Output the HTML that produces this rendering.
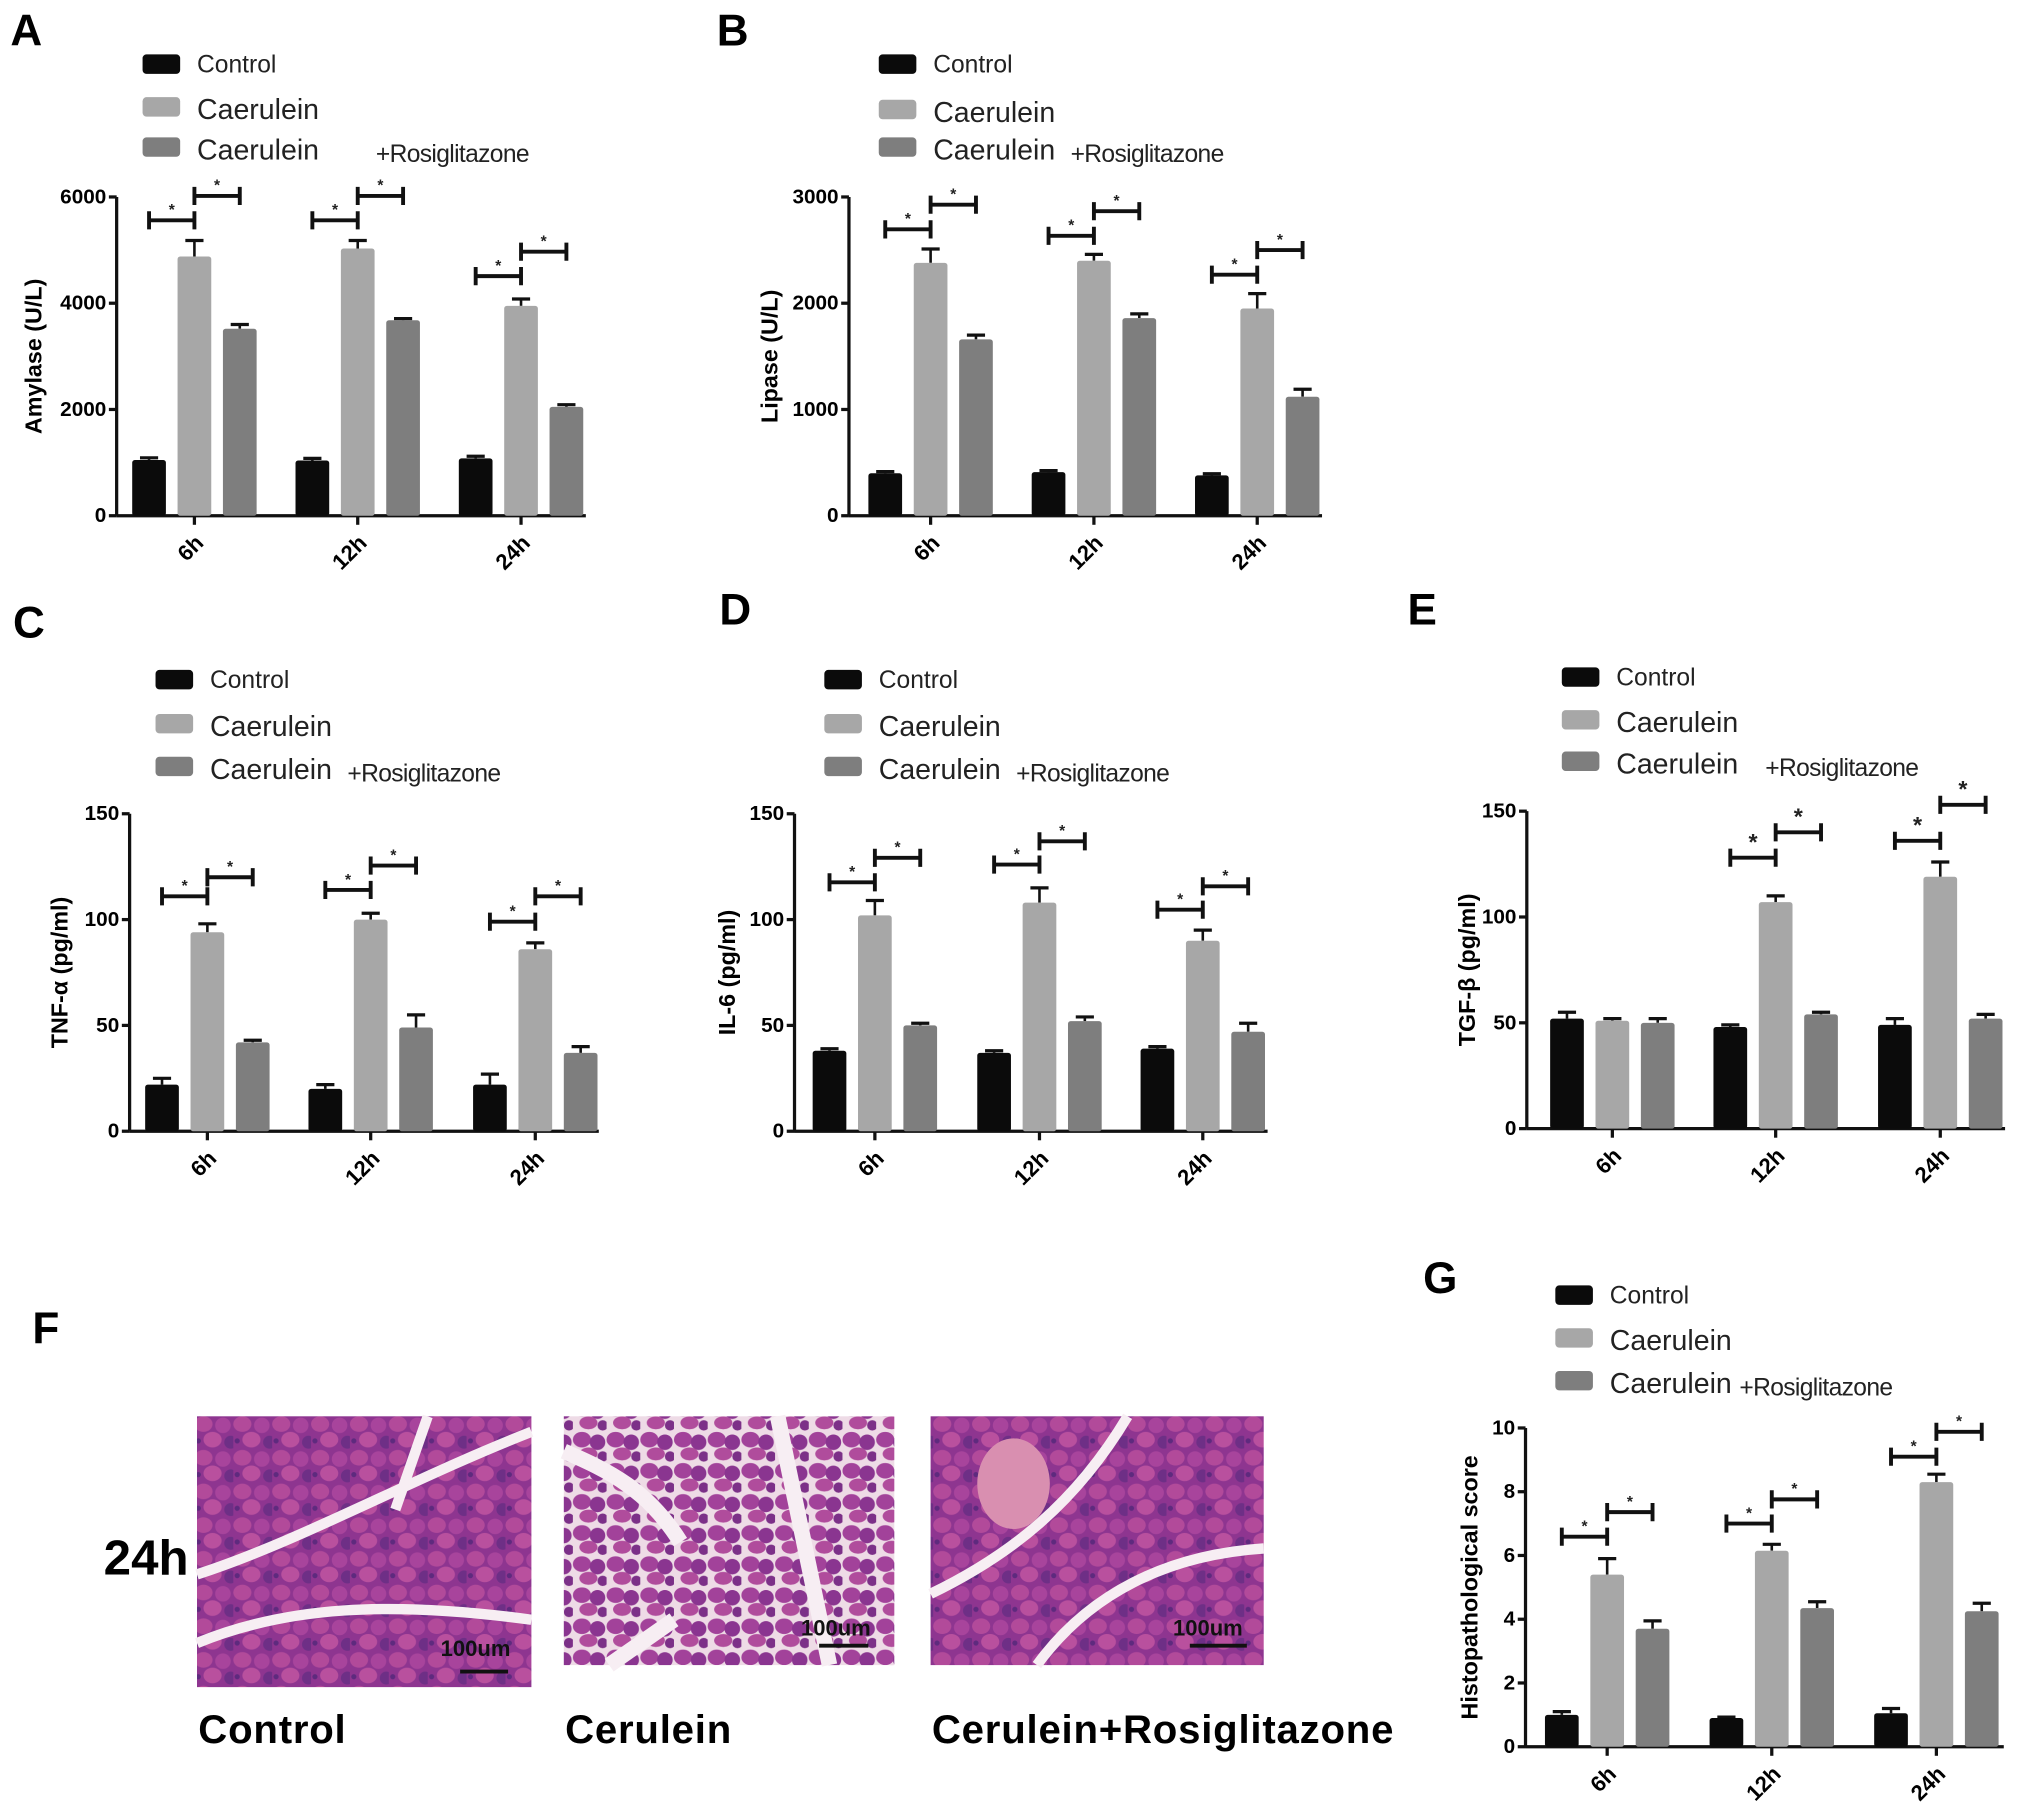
<!DOCTYPE html>
<html><head><meta charset="utf-8">
<style>
html,body{margin:0;padding:0;background:#fff;}
svg{display:block;}
text{font-family:"Liberation Sans",Arial,sans-serif;}
</style></head>
<body>
<svg id="fig" width="2031" height="1818" viewBox="0 0 1567 1403" preserveAspectRatio="none" xmlns="http://www.w3.org/2000/svg">
<defs>
<pattern id="acini" width="30" height="26" patternUnits="userSpaceOnUse">
<rect width="30" height="26" fill="#8e3590"/>
<ellipse cx="7" cy="7" rx="7" ry="6" fill="#b24a9a"/>
<ellipse cx="22" cy="8" rx="6" ry="6" fill="#a8449c"/>
<ellipse cx="14" cy="19" rx="7" ry="6" fill="#b9509e"/>
<ellipse cx="28" cy="21" rx="5" ry="5" fill="#6e2f86"/>
<circle cx="3" cy="20" r="2" fill="#5e2a7e"/>
</pattern>
<pattern id="aciniLoose" width="26" height="24" patternUnits="userSpaceOnUse">
<rect width="26" height="24" fill="#eedbe6"/>
<ellipse cx="7" cy="7" rx="7" ry="6" fill="#a2429a"/>
<ellipse cx="19" cy="9" rx="6" ry="6" fill="#8a3590"/>
<ellipse cx="12" cy="18" rx="7" ry="5" fill="#b04c9c"/>
<ellipse cx="23" cy="20" rx="4" ry="4" fill="#7c3088"/>
</pattern>
</defs>
<g id="root"></g>
</svg>
<script>
// ---------- Panel data ----------
const categories = ['6h', '12h', '24h'];
const seriesNames = ['Control', 'Caerulein', 'Caerulein +Rosiglitazone'];

const amyCtrl = [1050, 1040, 1080];
const amyCaer = [4880, 5030, 3950];
const amyRosi = [3520, 3680, 2050];
const amyCtrlErr = [40, 40, 40];
const amyCaerErr = [300, 150, 130];
const amyRosiErr = [80, 30, 40];
const amyTicks = [0, 2000, 4000, 6000];
const amySigLow = [5560, 5560, 4510];
const amySigHigh = [6020, 6020, 4970];

const lipCtrl = [400, 410, 380];
const lipCaer = [2380, 2400, 1950];
const lipRosi = [1660, 1860, 1120];
const lipCtrlErr = [15, 15, 15];
const lipCaerErr = [130, 60, 140];
const lipRosiErr = [40, 40, 70];
const lipTicks = [0, 1000, 2000, 3000];
const lipSigLow = [2695, 2634, 2268];
const lipSigHigh = [2927, 2866, 2500];

const tnfCtrl = [22, 20, 22];
const tnfCaer = [94, 100, 86];
const tnfRosi = [42, 49, 37];
const tnfCtrlErr = [3, 2, 5];
const tnfCaerErr = [4, 3, 3];
const tnfRosiErr = [1, 6, 3];
const tnfTicks = [0, 50, 100, 150];
const tnfSigLow = [111, 114, 99];
const tnfSigHigh = [120, 125.5, 111];

const il6Ctrl = [38, 37, 39];
const il6Caer = [102, 108, 90];
const il6Rosi = [50, 52, 47];
const il6CtrlErr = [1, 1, 1];
const il6CaerErr = [7, 7, 5];
const il6RosiErr = [1, 2, 4];
const il6Ticks = [0, 50, 100, 150];
const il6SigLow = [117.6, 126, 104.7];
const il6SigHigh = [129.2, 137, 115.7];

const tgfCtrl = [52, 48, 49];
const tgfCaer = [51, 107, 119];
const tgfRosi = [50, 54, 52];
const tgfCtrlErr = [3, 1, 3];
const tgfCaerErr = [1, 3, 7];
const tgfRosiErr = [2, 1, 2];
const tgfTicks = [0, 50, 100, 150];
const tgfSigLow = [null, 128, 136];
const tgfSigHigh = [null, 140, 153];

const histCtrl = [1.0, 0.9, 1.05];
const histCaer = [5.4, 6.15, 8.3];
const histRosi = [3.7, 4.35, 4.25];
const histCtrlErr = [0.1, 0.03, 0.15];
const histCaerErr = [0.5, 0.2, 0.25];
const histRosiErr = [0.25, 0.2, 0.25];
const histTicks = [0, 2, 4, 6, 8, 10];
const histSigLow = [6.59, 7.0, 9.1];
const histSigHigh = [7.36, 7.76, 9.88];

const colors = ['#0b0b0b', '#a7a7a7', '#7e7e7e'];
const NS = 'http://www.w3.org/2000/svg';
const root = document.getElementById('root');

function mk(tag, attrs, parent, txt) {
  const e = document.createElementNS(NS, tag);
  for (const k in attrs) e.setAttribute(k, attrs[k]);
  if (txt !== undefined) e.textContent = txt;
  (parent || root).appendChild(e);
  return e;
}

function drawPanel(p) {
  const g = mk('g', {});
  
  
  const L = mk('text', {x: p.letter[0], y: p.letter[1], 'font-size': 34, 'font-weight': 'bold'}, g, p.id.toUpperCase());
  
  
  const lg = mk('g', {}, g);
  
  
  for (let i = 0; i < 3; i++) {
    const sy = p.legY[i];
    const sw = mk('rect', {x: p.legX, y: sy, width: 29, height: 15, rx: 3, fill: colors[i]}, lg);
    
    
    const t = mk('text', {x: p.legX + 42, y: sy + 14 + (i ? 3 : 0), 'font-size': i ? 22 : 19, fill: '#222'}, lg, i ? 'Caerulein' : 'Control');
    
    
    if (i === 2) {
      const r = mk('text', {x: p.legX + p.rosiDx, y: sy + 19, 'font-size': 19, fill: '#222', 'letter-spacing': -0.5}, lg, '+Rosiglitazone');
      
      
    }
  }
  const ax = p.axX, y0 = p.y0, y1 = p.y1, maxV = p.ticks[p.ticks.length - 1];
  const yS = v => y0 - (v / maxV) * (y0 - y1);
  const bw = 26, pitch = 35;
  const xC = (gi, si) => p.centers[gi] + (si - 1) * pitch;
  const ya = mk('line', {x1: ax, y1: y1, x2: ax, y2: y0, stroke: '#111', 'stroke-width': 2.5}, g);
  
  
  const xa = mk('line', {x1: ax, y1: y0, x2: p.axEnd, y2: y0, stroke: '#111', 'stroke-width': 2.5}, g);
  
  
  p.ticks.forEach(v => {
    const y = yS(v);
    const tk = mk('line', {x1: ax - 6, y1: y, x2: ax, y2: y, stroke: '#111', 'stroke-width': 2.5}, g);
    
    
    const tl = mk('text', {x: ax - 8, y: y + 5, 'font-size': 16, 'font-weight': 'bold', 'text-anchor': 'end'}, g, String(v));
    
    
  });
  const yt = mk('text', {x: 0, y: 0, 'font-size': 18, 'font-weight': 'bold', 'text-anchor': 'middle', transform: `translate(${p.titleX},${(y0 + y1) / 2}) rotate(-90)`}, g, p.title);
  
  
  categories.forEach((c, gi) => {
    const cx = p.centers[gi];
    const tk = mk('line', {x1: cx, y1: y0, x2: cx, y2: y0 + 7, stroke: '#111', 'stroke-width': 2.5}, g);
    
    
    const tl = mk('text', {x: 0, y: 0, 'font-size': 17, 'font-weight': 'bold', 'text-anchor': 'end', transform: `translate(${cx + 8},${y0 + 22}) rotate(-45)`}, g, c);
    
    
  });
  const series = [p.ctrl, p.caer, p.rosi];
  const errs = [p.ctrlErr, p.caerErr, p.rosiErr];
  for (let gi = 0; gi < categories.length; gi++) {
    for (let si = 0; si < 3; si++) {
      const v = series[si][gi], e = errs[si][gi], cx = xC(gi, si);
      const top = yS(v + e);
      const el = mk('line', {x1: cx, y1: top, x2: cx, y2: yS(v), stroke: '#111', 'stroke-width': 2}, g);
      
      
      const cap = mk('line', {x1: cx - 7, y1: top, x2: cx + 7, y2: top, stroke: '#111', 'stroke-width': 2.5}, g);
      
      
      const b = mk('rect', {x: cx - bw / 2, y: yS(v), width: bw, height: y0 - yS(v), fill: colors[si], rx: 2}, g);
      
      
    }
    const sig = [[p.sigLow[gi], 0, 1], [p.sigHigh[gi], 1, 2]];
    sig.forEach(([v, a, b2]) => {
      if (v === null) return;
      const y = yS(v), xa1 = xC(gi, a), xb = xC(gi, b2);
      const br = mk('path', {d: `M${xa1} ${y - 7}V${y + 7}M${xa1} ${y}H${xb}M${xb} ${y - 7}V${y + 7}`, stroke: '#111', 'stroke-width': 3, fill: 'none'}, g);
      
      
      const st = mk('text', {x: (xa1 + xb) / 2, y: y - 4 + (p.bigStar ? -2 : 0), 'font-size': p.bigStar ? 18 : 12, 'font-weight': 'bold', 'text-anchor': 'middle', fill: '#222'}, g, '*');
      
      
    });
  }
}

drawPanel({id: 'a', letter: [8, 35], legX: 110, legY: [42, 75, 106], rosiDx: 180, axX: 90, y0: 398, y1: 152, axEnd: 452, centers: [150, 276, 402], ticks: amyTicks, title: 'Amylase (U/L)', titleX: 32, ctrl: amyCtrl, caer: amyCaer, rosi: amyRosi, ctrlErr: amyCtrlErr, caerErr: amyCaerErr, rosiErr: amyRosiErr, sigLow: amySigLow, sigHigh: amySigHigh});
drawPanel({id: 'b', letter: [553, 35], legX: 678, legY: [42, 77, 106], rosiDx: 148, axX: 655, y0: 398, y1: 152, axEnd: 1020, centers: [718, 844, 970], ticks: lipTicks, title: 'Lipase (U/L)', titleX: 600, ctrl: lipCtrl, caer: lipCaer, rosi: lipRosi, ctrlErr: lipCtrlErr, caerErr: lipCaerErr, rosiErr: lipRosiErr, sigLow: lipSigLow, sigHigh: lipSigHigh});
drawPanel({id: 'c', letter: [10, 492], legX: 120, legY: [517, 551, 584], rosiDx: 148, axX: 100, y0: 873, y1: 628, axEnd: 462, centers: [160, 286, 413], ticks: tnfTicks, title: 'TNF-α (pg/ml)', titleX: 52, ctrl: tnfCtrl, caer: tnfCaer, rosi: tnfRosi, ctrlErr: tnfCtrlErr, caerErr: tnfCaerErr, rosiErr: tnfRosiErr, sigLow: tnfSigLow, sigHigh: tnfSigHigh});
drawPanel({id: 'd', letter: [555, 482], legX: 636, legY: [517, 551, 584], rosiDx: 148, axX: 613, y0: 873, y1: 628, axEnd: 978, centers: [675, 802, 928], ticks: il6Ticks, title: 'IL-6 (pg/ml)', titleX: 567, ctrl: il6Ctrl, caer: il6Caer, rosi: il6Rosi, ctrlErr: il6CtrlErr, caerErr: il6CaerErr, rosiErr: il6RosiErr, sigLow: il6SigLow, sigHigh: il6SigHigh});
drawPanel({id: 'e', letter: [1086, 482], legX: 1205, legY: [515, 548, 580], rosiDx: 157, axX: 1178, y0: 871, y1: 626, axEnd: 1547, centers: [1244, 1370, 1497], ticks: tgfTicks, title: 'TGF-β (pg/ml)', titleX: 1138, bigStar: true, ctrl: tgfCtrl, caer: tgfCaer, rosi: tgfRosi, ctrlErr: tgfCtrlErr, caerErr: tgfCaerErr, rosiErr: tgfRosiErr, sigLow: tgfSigLow, sigHigh: tgfSigHigh});
drawPanel({id: 'g', letter: [1098, 998], legX: 1200, legY: [992, 1025, 1058], rosiDx: 142, axX: 1177, y0: 1348, y1: 1102, axEnd: 1546, centers: [1240, 1367, 1494], ticks: histTicks, title: 'Histopathological score', titleX: 1140, ctrl: histCtrl, caer: histCaer, rosi: histRosi, ctrlErr: histCtrlErr, caerErr: histCaerErr, rosiErr: histRosiErr, sigLow: histSigLow, sigHigh: histSigHigh});

// ---------- Panel F: histology ----------
const fg = mk('g', {});


const fl = mk('text', {x: 25, y: 1037, 'font-size': 34, 'font-weight': 'bold'}, fg, 'F');


const t24 = mk('text', {x: 80, y: 1215, 'font-size': 38, 'font-weight': 'bold'}, fg, '24h');



const imgs = [
  {x: 152, y: 1093, w: 258, h: 209, fill: 'url(#acini)', cap: 'Control', sbx: 355, sby: 1290, sbw: 37, tx: 340, ty: 1278,
   gaps: ['M152 1215 C230 1190 320 1140 410 1105', 'M152 1268 C220 1240 300 1235 410 1250', 'M330 1093 L305 1165']},
  {x: 435, y: 1093, w: 255, h: 192, fill: 'url(#aciniLoose)', cap: 'Cerulein', sbx: 632, sby: 1270, sbw: 38, tx: 618, ty: 1262,
   gaps: ['M600 1093 L640 1285', 'M435 1120 C470 1135 500 1150 525 1190', 'M470 1285 L520 1250']},
  {x: 718, y: 1093, w: 257, h: 192, fill: 'url(#acini)', cap: 'Cerulein+Rosiglitazone', sbx: 918, sby: 1270, sbw: 44, tx: 905, ty: 1262,
   gaps: ['M718 1230 C780 1200 830 1160 870 1093', 'M800 1285 C840 1230 900 1200 975 1195']}
];
imgs.forEach((im, i) => {
  const r = mk('rect', {x: im.x, y: im.y, width: im.w, height: im.h, fill: im.fill}, fg);
  
  
  im.gaps.forEach(d => {
    const gp = mk('path', {d: d, stroke: '#f7eef3', 'stroke-width': i === 1 ? 12 : 8, fill: 'none'}, fg);
    
    
  });
  if (i === 2) {
    const isl = mk('ellipse', {cx: 782, cy: 1145, rx: 28, ry: 35, fill: '#d98fb0'}, fg);
    
    
  }
  const sb = mk('line', {x1: im.sbx, y1: im.sby, x2: im.sbx + im.sbw, y2: im.sby, stroke: '#111', 'stroke-width': 3}, fg);
  
  
  const st = mk('text', {x: im.tx, y: im.ty, 'font-size': 17, 'font-weight': 'bold', fill: '#111'}, fg, '100um');
  
  
  const cp = mk('text', {x: im.x + 1, y: 1345, 'font-size': 31, 'font-weight': 'bold', 'letter-spacing': 0.6}, fg, im.cap);
  
  
});
</script>
</body></html>
